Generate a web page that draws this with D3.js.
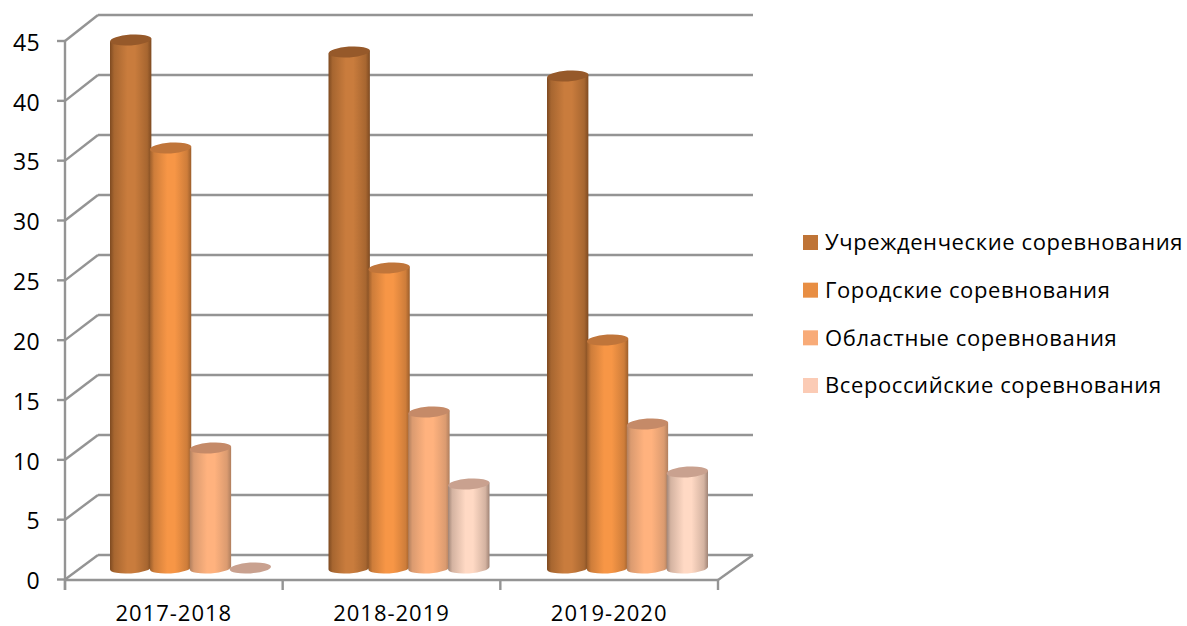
<!DOCTYPE html>
<html><head><meta charset="utf-8">
<script src="https://cdn.jsdelivr.net/npm/d3@7"></script>
<style>html,body{margin:0;padding:0;background:#fff}svg{display:block}text{font-family:"Open Sans",sans-serif;fill:#000}</style>
</head><body><svg id="c" width="1187" height="626"></svg>
<script>
const categories = ["2017-2018","2018-2019","2019-2020"];
const seriesNames = ["Учрежденческие соревнования","Городские соревнования","Областные соревнования","Всероссийские соревнования"];
const s1 = [44,43,41];
const s2 = [35,25,19];
const s3 = [10,13,12];
const s4 = [0,7,8];
const yTicks = [0,5,10,15,20,25,30,35,40,45];
const bodyEdge = ["#7e4a21","#9c5e2b","#b07f5e","#a08476"];
const bodyMid  = ["#c97c3d","#f79646","#ffb27e","#ffd9c4"];
const topFill  = ["#96592a","#c0753a","#c58a68","#c9a18f"];
const legendFill = ["#bf7436","#e88e43","#f8ab78","#fbcbb5"];
const allSeries = [s1,s2,s3,s4];

const svg = d3.select("#c");
const defs = svg.append("defs");
const yFront = d3.scaleLinear().domain([0,45]).range([579.5,41]);
const yBack  = d3.scaleLinear().domain([0,45]).range([555,15]);
const yBar   = d3.scaleLinear().domain([0,45]).range([568,28]);
const xFront = d3.scaleBand().domain(categories).range([65,718]);
const xGroup = d3.scaleBand().domain(categories).range([110,765.5]);
const xSeries = d3.scaleBand().domain(d3.range(4)).range([0,159.5]);
const dx = 33;
const grid = "#949494";

bodyEdge.forEach((e,i)=>{
  const g = defs.append("linearGradient").attr("id","g"+i).attr("x1",0).attr("x2",1).attr("y1",0).attr("y2",0);
  [[0,e],[0.1,d3.interpolateRgb(e,bodyMid[i])(0.55)],[0.42,bodyMid[i]],[0.6,bodyMid[i]],[0.9,d3.interpolateRgb(e,bodyMid[i])(0.55)],[1,e]]
   .forEach(([o,c])=>g.append("stop").attr("offset",o).attr("stop-color",c));
});

// walls and gridlines
const gG = svg.append("g").attr("fill","none").attr("stroke",grid).attr("stroke-width",2.4);
yTicks.forEach(t=>{
  const xl = xFront.range()[0], xr = xFront.range()[1];
  gG.append("line").attr("x1",xl+dx).attr("x2",xr+35).attr("y1",yBack(t)).attr("y2",yBack(t));
  gG.append("line").attr("x1",xl).attr("x2",xl+dx).attr("y1",yFront(t)).attr("y2",yBack(t));
  gG.append("line").attr("x1",xl-8).attr("x2",xl).attr("y1",yFront(t)).attr("y2",yFront(t));
});
gG.append("line").attr("x1",65).attr("x2",65).attr("y1",yFront(45)).attr("y2",590);
gG.append("line").attr("x1",65).attr("x2",718).attr("y1",580).attr("y2",580);
gG.append("line").attr("x1",718).attr("x2",753).attr("y1",580).attr("y2",555);
[...categories.map(c=>xFront(c)),718].forEach(x=>gG.append("line").attr("x1",x).attr("x2",x).attr("y1",580).attr("y2",590));

// cylinders
const ry = 5.4, rot = -4;
categories.forEach((c,ci)=>{
  allSeries.forEach((vals,si)=>{
    const v = vals[ci];
    const x0 = xGroup(c)+xSeries(si), x1 = x0+xSeries.bandwidth()+1.5;
    const cx = (x0+x1)/2, r=(x1-x0)/2;
    const sl = r*Math.sin(-rot*Math.PI/180);
    const yt = yBar(v), yb = yBar(0);
    if(v>0){
      svg.append("path")
        .attr("d",`M${x0},${yt+sl} L${x0},${yb+sl} A${r},${ry} ${rot} 0 0 ${x1},${yb-sl} L${x1},${yt-sl} Z`)
        .attr("fill",`url(#g${si})`);
    }
    svg.append("ellipse").attr("cx",0).attr("cy",0).attr("rx",r).attr("ry",ry)
      .attr("transform",`translate(${cx},${yt}) rotate(${rot})`)
      .attr("fill",topFill[si]);
  });
});

// tick labels
svg.append("g").selectAll("text").data(yTicks).join("text")
  .attr("x",40).attr("y",d=>yFront(d)+1.5).attr("dy","0.36em").attr("text-anchor","end")
  .attr("font-size",23).attr("letter-spacing",0.4).text(d=>d);
svg.append("g").selectAll("text").data(categories).join("text")
  .attr("x",d=>xFront(d)+xFront.bandwidth()/2).attr("y",613).attr("dy","0.36em").attr("text-anchor","middle")
  .attr("font-size",22).attr("letter-spacing",1).text(d=>d);

// legend
const yLeg = d3.scalePoint().domain(d3.range(4)).range([243,386]);
const lg = svg.append("g").selectAll("g").data(seriesNames).join("g")
  .attr("transform",(d,i)=>`translate(803,${yLeg(i)})`);
lg.append("rect").attr("x",0).attr("y",-8).attr("width",15).attr("height",15).attr("fill",(d,i)=>legendFill[i]);
lg.append("text").attr("x",22).attr("y",-0.5).attr("dy","0.36em").attr("font-size",22).attr("letter-spacing",0.6).text(d=>d);
</script></body></html>
